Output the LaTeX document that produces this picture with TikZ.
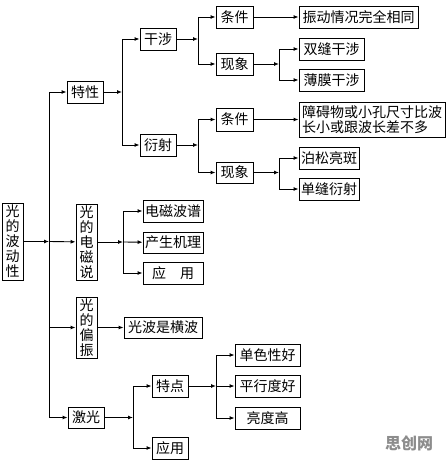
\documentclass[tikz,border=0pt]{standalone}
\usepackage{fontspec}
\setmainfont{Noto Sans CJK SC}
\usetikzlibrary{arrows.meta}
\tikzset{
  bx/.style={draw=black, line width=0.9pt, inner sep=0pt, align=center, font=\fontsize{14}{15}\selectfont},
  ln/.style={line width=0.9pt},
  ar/.style={line width=0.9pt, -{Latex[length=5pt,width=4pt]}},
}
\begin{document}
\begin{tikzpicture}[x=1pt,y=-1pt]
\useasboundingbox (0,0) rectangle (446,462);
\fill[white] (0,0) rectangle (446,462);
% boxes
\node[bx, minimum width=21, minimum height=77] (root) at (12.5,241.5) {光\\的\\波\\动\\性};
\node[bx, minimum width=36, minimum height=22] (texing) at (85,92) {特性};
\node[bx, minimum width=36, minimum height=22] (ganshe) at (158,39) {干涉};
\node[bx, minimum width=36, minimum height=22] (yanshe) at (158,145) {衍射};
\node[bx, minimum width=37, minimum height=22] (tj1) at (234.5,17) {条件};
\node[bx, minimum width=119, minimum height=22] (zd) at (358.5,17) {振动情况完全相同};
\node[bx, minimum width=37, minimum height=22] (xx1) at (234.5,64) {现象};
\node[bx, minimum width=65, minimum height=22] (sf) at (331.5,49) {双缝干涉};
\node[bx, minimum width=65, minimum height=22] (bm) at (331.5,80) {薄膜干涉};
\node[bx, minimum width=37, minimum height=23] (tj2) at (234.5,119.5) {条件};
\node[bx, minimum width=146, minimum height=35, align=left] (za) at (372,119.5) {障碍物或小孔尺寸比波\\长小或跟波长差不多};
\node[bx, minimum width=37, minimum height=21] (xx2) at (234.5,172.5) {现象};
\node[bx, minimum width=60, minimum height=22] (bs) at (329,158) {泊松亮斑};
\node[bx, minimum width=60, minimum height=22] (dfys) at (329,189) {单缝衍射};
\node[bx, minimum width=21, minimum height=76] (dcs) at (86.5,242) {光\\的\\电\\磁\\说};
\node[bx, minimum width=60, minimum height=22] (dcbp) at (173,211) {电磁波谱};
\node[bx, minimum width=60, minimum height=21] (csjl) at (173,242.5) {产生机理};
\node[bx, minimum width=60, minimum height=22] (yy1) at (173,273) {应\hspace{1em}用};
\node[bx, minimum width=21, minimum height=61] (pz) at (86.5,327.5) {光\\的\\偏\\振};
\node[bx, minimum width=78, minimum height=21] (hb) at (163,327.5) {光波是横波};
\node[bx, minimum width=36, minimum height=21] (jg) at (86,417.5) {激光};
\node[bx, minimum width=36, minimum height=22] (td) at (170,386) {特点};
\node[bx, minimum width=36, minimum height=22] (yy2) at (170,448) {应用};
\node[bx, minimum width=65, minimum height=22] (dsx) at (267.5,355) {单色性好};
\node[bx, minimum width=65, minimum height=22] (pxd) at (267.5,386) {平行度好};
\node[bx, minimum width=65, minimum height=22] (ldg) at (267.5,418) {亮度高};
% split points
\coordinate (tm) at (49,241.5);
\coordinate (s1) at (122,92);
\coordinate (s2) at (198,39);
\coordinate (s3) at (279,64);
\coordinate (s4) at (198,145);
\coordinate (s5) at (279,172.5);
\coordinate (s6) at (123,242);
\coordinate (s7) at (133,417.5);
\coordinate (s8) at (216,386);
% connectors
\draw[ar] (root) -- (tm);
\draw[ar] (tm) |- (texing);
\draw[ar] (tm) -- (dcs);
\draw[ar] (tm) |- (pz);
\draw[ar] (tm) |- (jg);
\draw[ar] (texing) -- (s1);
\draw[ar] (s1) |- (ganshe);
\draw[ar] (s1) |- (yanshe);
\draw[ar] (ganshe) -- (s2);
\draw[ar] (s2) |- (tj1);
\draw[ar] (s2) |- (xx1);
\draw[ar] (tj1) -- (zd);
\draw[ar] (xx1) -- (s3);
\draw[ar] (s3) |- (sf);
\draw[ar] (s3) |- (bm);
\draw[ar] (yanshe) -- (s4);
\draw[ar] (s4) |- (tj2);
\draw[ar] (s4) |- (xx2);
\draw[ar] (tj2) -- (za);
\draw[ar] (xx2) -- (s5);
\draw[ar] (s5) |- (bs);
\draw[ar] (s5) |- (dfys);
\draw[ar] (dcs) -- (s6);
\draw[ar] (s6) |- (dcbp);
\draw[ar] (s6) -- (csjl);
\draw[ar] (s6) |- (yy1);
\draw[ar] (pz) -- (hb);
\draw[ar] (jg) -- (s7);
\draw[ar] (s7) |- (td);
\draw[ar] (s7) |- (yy2);
\draw[ar] (td) -- (s8);
\draw[ar] (s8) |- (dsx);
\draw[ar] (s8) -- (pxd);
\draw[ar] (s8) |- (ldg);
% watermark
\node[text=black!45, font=\fontsize{16}{16}\selectfont\bfseries] (wm) at (409,443) {思创网};
\end{tikzpicture}
\end{document}
